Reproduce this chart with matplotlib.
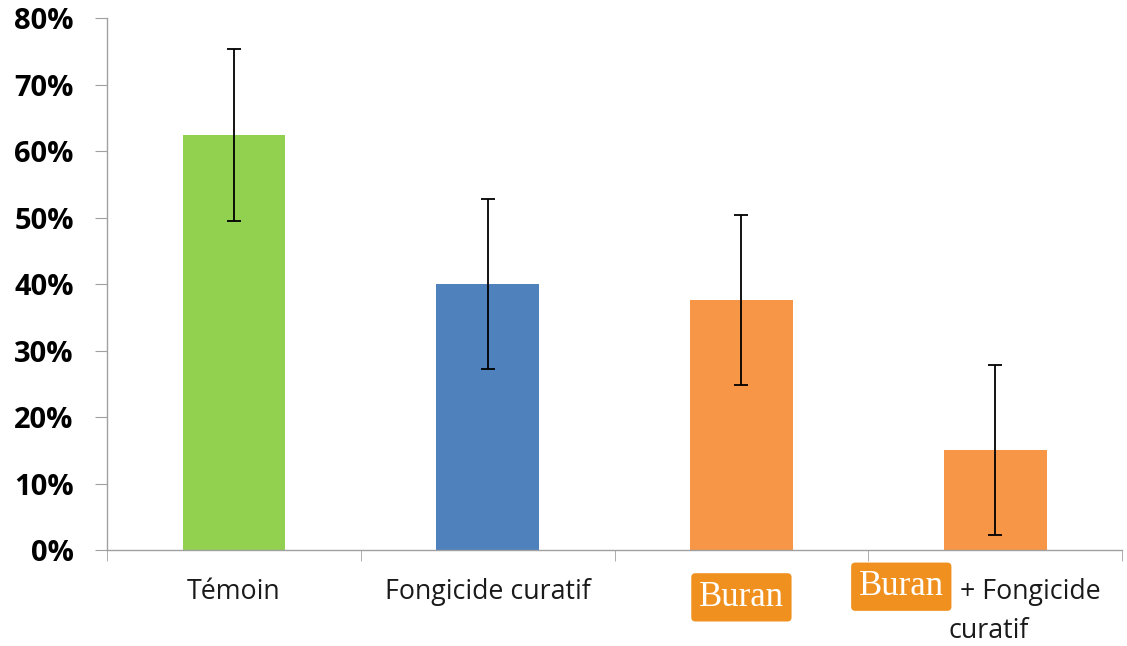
import matplotlib
matplotlib.use("Agg")
import matplotlib.pyplot as plt
import matplotlib.transforms as mtransforms
import numpy as np

categories = ["Témoin", "Fongicide curatif", "Buran", "Buran + Fongicide curatif"]
values = [62.4, 40.0, 37.6, 15.0]
errors = [12.9, 12.8, 12.8, 12.8]
colors = ["#92D050", "#4F81BD", "#F79646", "#F79646"]
yticks = [0, 10, 20, 30, 40, 50, 60, 70, 80]

fig = plt.figure(figsize=(11.27, 6.46), dpi=100)
ax = fig.add_axes([0.095, 0.1486, 0.9006, 0.8234])

x = np.arange(len(categories))
ax.bar(x, values, width=0.405, color=colors, zorder=2)
ax.errorbar(x, values, yerr=errors, fmt="none", ecolor="black", elinewidth=1.3,
            capsize=5, capthick=1.3, zorder=3)

ax.set_xlim(-0.5, len(categories) - 0.5)
ax.set_ylim(0, 80)
ax.set_yticks(yticks)
ax.set_yticklabels([f"{v}%" for v in yticks], fontsize=21, fontweight="bold",
                   family="Open Sans")
ax.tick_params(axis="y", direction="out", length=9, color="#A0A0A0", pad=15)

ax.set_xticks(x)
ax.set_xticklabels([])
ax.tick_params(axis="x", which="major", length=0)
ax.set_xticks(np.arange(-0.5, len(categories) + 0.5, 1), minor=True)
ax.tick_params(axis="x", which="minor", direction="out", length=8, color="#A0A0A0")

for s in ["top", "right"]:
    ax.spines[s].set_visible(False)
for s in ["left", "bottom"]:
    ax.spines[s].set_color("#A0A0A0")
    ax.spines[s].set_linewidth(1.0)

trans = mtransforms.blended_transform_factory(ax.transData, ax.transAxes)
lab_font = dict(fontsize=19.3, family="Open Sans", color="#1a1a1a")
ax.text(0, -0.079, categories[0], transform=trans, ha="center", va="center", **lab_font)
ax.text(1, -0.079, categories[1], transform=trans, ha="center", va="center", **lab_font)

box = dict(boxstyle="round,pad=0.22,rounding_size=0.12", facecolor="#F0901E", edgecolor="none")
buran_font = dict(fontsize=25, family="Liberation Serif", color="white")
ax.text(2, -0.089, "Buran", transform=trans, ha="center", va="center", bbox=box, **buran_font)
ax.text(2.63, -0.069, "Buran", transform=trans, ha="center", va="center", bbox=box, **buran_font)
ax.text(2.86, -0.079, "+ Fongicide", transform=trans, ha="left", va="center", **lab_font)
ax.text(2.976, -0.152, "curatif", transform=trans, ha="center", va="center", **lab_font)

fig.savefig("out.png", dpi=100)
